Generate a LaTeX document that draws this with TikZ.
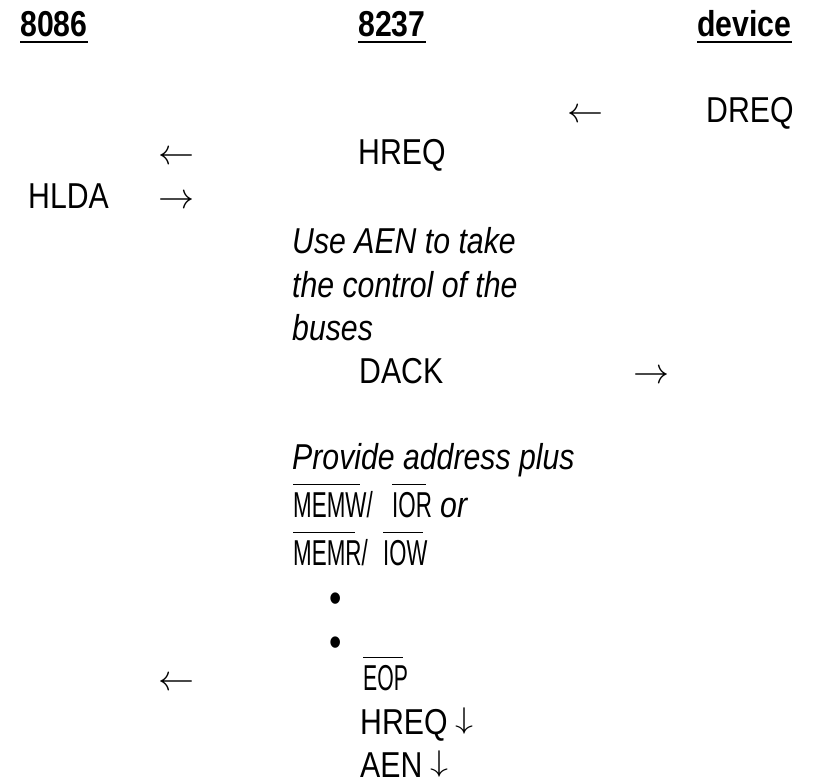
\documentclass[tikz,border=0pt]{standalone}
\usepackage{fontspec}
\usepackage{graphicx}
\setmainfont{Liberation Sans}[FakeStretch=0.84]
\newcommand\arr[1]{{\fontsize{10}{12}\selectfont\scalebox{3.6}{$#1$}}}
\newcommand\darr{\raisebox{6pt}{{\fontsize{10}{12}\selectfont\scalebox{3.6}[3.0]{$\downarrow$}}}}
\newcommand\ol[3]{\rlap{\raisebox{32pt}{\rule{#1pt}{0.9pt}}}\scalebox{#2}[1]{#3}}
\tikzset{
  tx/.style={anchor=base west, inner sep=0pt, font=\fontsize{36}{44}\selectfont},
  it/.style={tx, font=\fontsize{36}{44}\selectfont\itshape},
  hd/.style={tx, font=\fontsize{36}{44}\selectfont\bfseries},
  bul/.style={anchor=center, inner sep=0pt, font=\fontsize{42}{44}\selectfont},
  uline/.style={line width=2.6pt}
}
\begin{document}
\begin{tikzpicture}[x=1pt,y=-1pt]
\fill[white] (0,0) rectangle (819,784);
\useasboundingbox (0,0) rectangle (819,784);
% headings
\node[hd] (h1) at (20,37) {8086};
\node[hd] (h2) at (358,37) {8237};
\node[hd] (h3) at (697,37) {device};
\draw[uline] ([yshift=-5pt]h1.base west) -- ([yshift=-5pt]h1.base east);
\draw[uline] ([yshift=-5pt]h2.base west) -- ([yshift=-5pt]h2.base east);
\draw[uline] ([yshift=-5pt]h3.base west) -- ([yshift=-5pt]h3.base east);
% rows
\node[tx] (a1) at (567,122) {\arr{\leftarrow}};
\node[tx] (dreq) at (706,122) {DREQ};
\node[tx] (a2) at (158,164) {\arr{\leftarrow}};
\node[tx] (hreq) at (358,164) {HREQ};
\node[tx] (hlda) at (28,208) {HLDA};
\node[tx] (a3) at (158,208) {\arr{\rightarrow}};
\node[it] (u1) at (292,253) {Use AEN to take};
\node[it] (u2) at (292,297) {the control of the};
\node[it] (u3) at (292,340) {buses};
\node[tx] (dack) at (359,383) {DACK};
\node[tx] (a4) at (633,383) {\arr{\rightarrow}};
\node[it] (p1) at (292,469) {Provide address plus};
\node[tx] (m1) at (293,517) {\ol{67}{0.74}{MEMW/}};
\node[tx] (i1) at (392,517) {\ol{34}{0.74}{IOR}};
\node[it] (or) at (440,517) {or};
\node[tx] (m2) at (293,565) {\ol{62}{0.74}{MEMR/}};
\node[tx] (i2) at (383,565) {\ol{40}{0.73}{IOW}};
\node[bul] (d1) at (336,603) {•};
\node[bul] (d2) at (336,647) {•};
\node[tx] (a5) at (158,690) {\arr{\leftarrow}};
\node[tx] (eop) at (363,690) {\ol{40}{0.70}{EOP}};
\node[tx] (hr2) at (360,734) {HREQ \darr};
\node[tx] (aen) at (360,777) {AEN \darr};
\end{tikzpicture}
\end{document}
